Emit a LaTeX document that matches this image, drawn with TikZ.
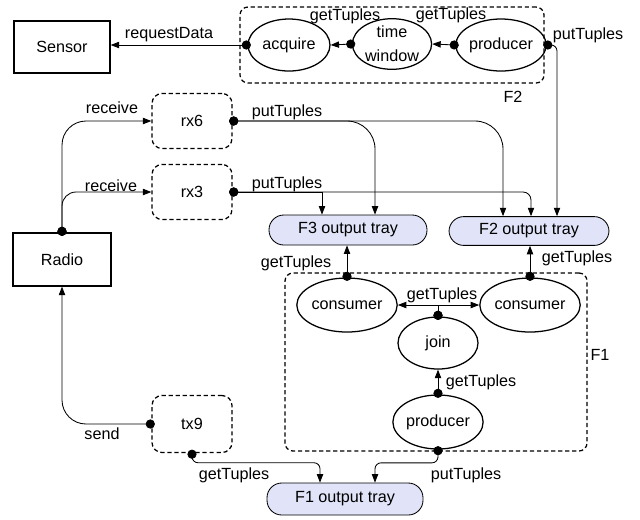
\documentclass[tikz,border=0pt]{standalone}
\usepackage{fontspec}
\setmainfont{Liberation Sans}
\usetikzlibrary{arrows.meta,shapes.geometric}
\definecolor{trayfill}{RGB}{225,228,248}
\tikzset{
    >={Triangle[length=6pt,width=4.5pt]},
    block/.style = {
        draw,
        shape=rectangle,
        minimum height=1.3cm,
        minimum width=2.4cm,
        line width=0.9pt
    },
    task/.style = {
        draw,
        shape=ellipse,
        inner sep=0pt,
        minimum height=1.3cm,
        minimum width=2cm,
        line width=0.9pt
    },
    radiotask/.style = {
        draw,
        shape=rectangle,
        dash pattern=on 3pt off 2pt,
        rounded corners=0.25cm,
        minimum height=1.375cm,
        minimum width=2cm,
        line width=0.9pt
    },
    group/.style = {
        draw,
        shape=rectangle,
        dash pattern=on 3pt off 2pt,
        rounded corners=0.2cm,
        line width=0.9pt
    },
    tray/.style = {
        draw,
        shape=rectangle,
        fill=trayfill,
        rounded corners=0.37cm,
        minimum height=0.75cm,
        minimum width=3.95cm,
        line width=0.6pt
    },
    tuple/.style = {
        {Circle[length=6.5pt]}->,
        shorten <=-2.5pt,
        line width=0.6pt
    },
}

\begin{document}
\begin{tikzpicture}[font=\fontsize{11.5}{13}\selectfont]
                \useasboundingbox (0,0) rectangle (16,-12.975);

                % fragments
                \node[group, minimum width=7.6cm, minimum height=1.9cm] (f2box) at (9.8,-1.125) {};
                \node[group, minimum width=7.55cm, minimum height=4.45cm] (f1box) at (10.9,-9.05) {};
                \node (f2name) at (12.825,-2.425) {F2};
                \node (f1name) at (15.0,-8.875) {F1};

                \node[block] (sensor) at (1.55,-1.175) {Sensor};
                \node[block, minimum width=2.45cm, minimum height=1.325cm] (radio) at (1.55,-6.4875) {Radio};

                \node[task, minimum width=2.05cm] (acquire) at (7.225,-1.125) {acquire};
                \node[task, minimum width=1.98cm, minimum height=1.2cm, align=center,
                      font=\fontsize{11.5}{17}\selectfont] (window) at (9.8,-1.1) {time\\window};
                \node[task, minimum width=2.2cm] (prodtwo) at (12.525,-1.125) {producer};

                \node[radiotask] (rx6) at (4.8,-3.025) {rx6};
                \node[radiotask] (rx3) at (4.8,-4.8) {rx3};
                \node[radiotask, minimum height=1.425cm] (tx9) at (4.8,-10.6) {tx9};

                \node[tray] (f3tray) at (8.7,-5.75) {F3 output tray};
                \node[tray, minimum width=4cm, minimum height=0.72cm] (f2tray) at (13.225,-5.775) {F2 output tray};
                \node[tray, minimum width=3.9cm, minimum height=0.8cm] (f1tray) at (8.625,-12.475) {F1 output tray};

                \node[task, minimum height=1.35cm] (consL) at (8.675,-7.625) {consumer};
                \node[task, minimum height=1.35cm] (consR) at (13.25,-7.625) {consumer};
                \node[task] (join) at (10.95,-8.575) {join};
                \node[task, minimum height=1.35cm] (prodone) at (10.95,-10.55) {producer};

                % labels
                \node (lreq) at (4.225,-0.875) {requestData};
                \node (lget1) at (8.625,-0.4) {getTuples};
                \node (lget2) at (11.275,-0.375) {getTuples};
                \node (lput2) at (14.7,-0.875) {putTuples};
                \node (lrec6) at (2.8,-2.7) {receive};
                \node (lrec3) at (2.775,-4.65) {receive};
                \node (lput6) at (7.175,-2.8) {putTuples};
                \node (lput3) at (7.175,-4.6) {putTuples};
                \node (lgetF3) at (7.4,-6.575) {getTuples};
                \node (lgetF2) at (14.425,-6.45) {getTuples};
                \node (lgetjoin) at (11.05,-7.375) {getTuples};
                \node (lgetprod) at (12.025,-9.55) {getTuples};
                \node (lsend) at (2.55,-10.85) {send};
                \node (lgettx) at (5.85,-11.875) {getTuples};
                \node (lputF1) at (11.65,-11.875) {putTuples};

                % F2
                \path[draw, tuple] (acquire.west) -- (sensor.east |- acquire.west);
                \path[draw, tuple] (window.west) -- (acquire.east);
                \path[draw, tuple] (prodtwo.west) -- (window.east);
                \path[draw, tuple, rounded corners=0.15cm] (prodtwo.east) -| ([xshift=0.7cm]f2tray.north);

                % radio tasks
                \path[draw, tuple, rounded corners=0.6cm] (radio.north) |- (rx6.west);
                \path[draw, tuple, rounded corners=0.35cm] (radio.north) |- (rx3.west);
                \path[draw, tuple, rounded corners=0.6cm] (tx9.west) -| (radio.south);
                \path[draw, tuple, rounded corners=0.7cm] (rx6.east) -| ([xshift=0.675cm]f3tray.north);
                \path[draw, tuple, rounded corners=0.7cm] (rx6.east) -| ([xshift=-0.65cm]f2tray.north);
                \path[draw, tuple] (rx3.east) -| ([xshift=-0.65cm]f3tray.north);
                \path[draw, tuple, rounded corners=0.2cm] (rx3.east) -| ([xshift=0.05cm]f2tray.north);
                \path[draw, tuple, rounded corners=0.15cm] (tx9.south) -- ++(0,-0.24) -| ([xshift=-0.625cm]f1tray.north);

                % F1
                \path[draw, tuple] (consL.north) -- (consL.north |- f3tray.south);
                \path[draw, tuple] (consR.north) -- (consR.north |- f2tray.south);
                \path[draw, tuple] (join.north) |- (consL.east);
                \path[draw, tuple] (join.north) |- (consR.west);
                \path[draw, tuple] (prodone.north) -- (join.south);
                \path[draw, tuple, rounded corners=0.15cm] (prodone.south) -- ++(0,-0.33) -| ([xshift=0.75cm]f1tray.north);
            \end{tikzpicture}
\end{document}
